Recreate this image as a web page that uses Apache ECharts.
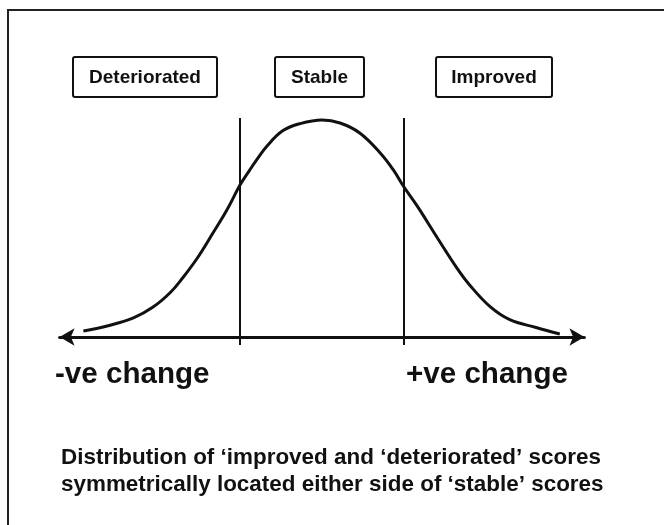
<!DOCTYPE html>
<html>
<head>
<meta charset="utf-8">
<title>Stable / improved / deteriorated distribution</title>
<script src="https://cdn.jsdelivr.net/npm/echarts@6/dist/echarts.min.js"></script>
<style>
  html, body { margin: 0; padding: 0; background: #fff; }
  #chart { width: 664px; height: 525px; }
</style>
</head>
<body>
<div id="chart"></div>
<script>
// curve: x in SD units, y as % of the peak
const curveX = [-2.91, -2.62, -2.30, -2.06, -1.85, -1.70, -1.52, -1.33, -1.16, -1.00,
  -0.88, -0.78, -0.67, -0.48, -0.27, 0, 0.22, 0.46, 0.71, 0.87,
  1.00, 1.16, 1.40, 1.65, 1.80, 2.05, 2.29, 2.61, 2.90];
const curveY = [2.8, 5.1, 8.8, 13.8, 20.5, 27.2, 36.4, 47.9, 58.5, 70.0,
  77.0, 82.5, 88.0, 95.0, 98.3, 100, 98.6, 94.0, 84.8, 77.0,
  69.1, 60.4, 46.1, 31.5, 24.0, 14.0, 8.0, 4.4, 1.4];

// the two cut-off lines either side of 'stable'
const cutoffs = [-1, 1];
const cutoffTop = 100.9;
const cutoffBottom = -3.7;

const groupLabels = ['Deteriorated', 'Stable', 'Improved'];
const axisLabels = ['-ve change', '+ve change'];
const captionLines = [
  'Distribution of \u2018improved and \u2018deteriorated\u2019 scores',
  'symmetrically located either side of \u2018stable\u2019 scores'
];

const FONT = '"Liberation Sans", Arial, Helvetica, sans-serif';
const INK = '#111';

const chart = echarts.init(document.getElementById('chart'));

const curveData = curveX.map((x, i) => [x, curveY[i]]);

const cutoffSeries = cutoffs.map(c => ({
  type: 'line',
  data: [[c, cutoffBottom], [c, cutoffTop]],
  showSymbol: false,
  clip: false,
  lineStyle: { color: INK, width: 2 },
  z: 3
}));

// boxes above the curve
const boxes = [
  { left: 73, width: 144 },
  { left: 275, width: 89 },
  { left: 436, width: 116 }
];

const graphic = [
  // outer frame, runs off the right and bottom edges
  {
    type: 'rect',
    shape: { x: 8, y: 10, width: 700, height: 600 },
    style: { fill: 'none', stroke: '#222', lineWidth: 2 },
    silent: true
  }
];

groupLabels.forEach((name, i) => {
  const b = boxes[i];
  graphic.push({
    type: 'rect',
    shape: { x: b.left, y: 57, width: b.width, height: 40, r: 2 },
    style: { fill: '#fff', stroke: INK, lineWidth: 2 }
  });
  graphic.push({
    type: 'text',
    x: b.left + b.width / 2,
    y: 78,
    style: {
      text: name,
      x: 0, y: 0,
      fill: INK,
      font: 'bold 19px ' + FONT,
      textAlign: 'center',
      textVerticalAlign: 'middle'
    }
  });
});

[55, 406].forEach((left, i) => {
  graphic.push({
    type: 'text',
    x: left,
    y: 375,
    scaleX: 1.02,
    style: {
      text: axisLabels[i],
      x: 0, y: 0,
      fill: INK,
      font: 'bold 29px ' + FONT,
      textAlign: 'left',
      textVerticalAlign: 'middle'
    }
  });
});

captionLines.forEach((line, i) => {
  graphic.push({
    type: 'text',
    x: 61,
    y: 458 + i * 27,
    scaleX: 1.02,
    style: {
      text: line,
      x: 0, y: 0,
      fill: INK,
      font: 'bold 22px ' + FONT,
      textAlign: 'left',
      textVerticalAlign: 'middle'
    }
  });
});

const option = {
  backgroundColor: '#fff',
  animation: false,
  grid: {
    left: 59.6,
    width: 524.8,
    top: 117.8,
    bottom: 179.3
  },
  xAxis: {
    type: 'value',
    min: -3.2,
    max: 3.2,
    axisLine: {
      onZero: true,
      symbol: ['arrow', 'arrow'],
      symbolSize: [13, 15],
      lineStyle: { color: INK, width: 3 }
    },
    axisTick: { show: false },
    axisLabel: { show: false },
    splitLine: { show: false }
  },
  yAxis: {
    type: 'value',
    min: -4,
    max: 101,
    show: false
  },
  series: [
    {
      type: 'line',
      data: curveData,
      smooth: 0.4,
      showSymbol: false,
      lineStyle: { color: INK, width: 3 },
      z: 2
    },
    ...cutoffSeries
  ],
  graphic: graphic
};

chart.setOption(option);
</script>
</body>
</html>
